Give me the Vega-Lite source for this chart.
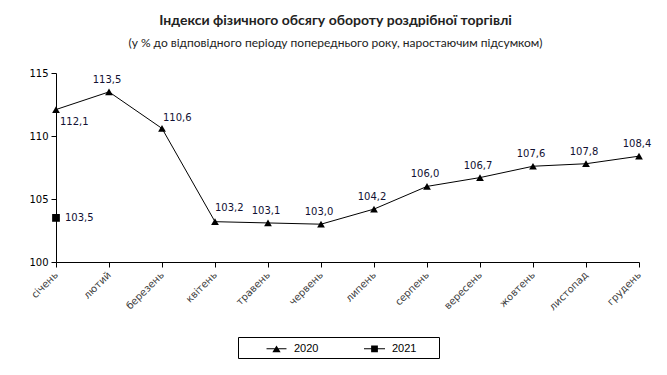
{
  "$schema": "https://vega.github.io/schema/vega-lite/v6.json",
  "autosize": "none",
  "width": 583,
  "height": 189,
  "padding": {"left": 56, "top": 73, "right": 28, "bottom": 113},
  "background": "white",
  "title": {
    "text": "Індекси фізичного обсягу обороту роздрібної торгівлі",
    "subtitle": "(у % до відповідного періоду попереднього року, наростаючим підсумком)",
    "anchor": "middle",
    "dx": -12,
    "offset": 19,
    "font": "Lato",
    "fontSize": 14,
    "fontWeight": "bold",
    "color": "#222222",
    "subtitleFont": "Lato",
    "subtitleFontSize": 12,
    "subtitleColor": "#222222",
    "subtitlePadding": 10
  },
  "config": {
    "view": {"stroke": null},
    "locale": {"number": {"decimal": ",", "thousands": " ", "grouping": [3], "currency": ["", ""]}},
    "axis": {"grid": false, "domainColor": "black", "tickColor": "black", "labelFont": "DejaVu Sans", "labelFontSize": 10, "title": null}
  },
  "data": {
    "values": [
      {"month": "січень", "year": "2020", "value": 112.1},
      {"month": "лютий", "year": "2020", "value": 113.5},
      {"month": "березень", "year": "2020", "value": 110.6},
      {"month": "квітень", "year": "2020", "value": 103.2},
      {"month": "травень", "year": "2020", "value": 103.1},
      {"month": "червень", "year": "2020", "value": 103.0},
      {"month": "липень", "year": "2020", "value": 104.2},
      {"month": "серпень", "year": "2020", "value": 106.0},
      {"month": "вересень", "year": "2020", "value": 106.7},
      {"month": "жовтень", "year": "2020", "value": 107.6},
      {"month": "листопад", "year": "2020", "value": 107.8},
      {"month": "грудень", "year": "2020", "value": 108.4},
      {"month": "січень", "year": "2021", "value": 103.5}
    ]
  },
  "encoding": {
    "x": {
      "field": "month",
      "type": "ordinal",
      "sort": null,
      "scale": {"type": "point", "padding": 0, "domain": ["січень", "лютий", "березень", "квітень", "травень", "червень", "липень", "серпень", "вересень", "жовтень", "листопад", "грудень"]},
      "axis": {"labelAngle": -45, "labelAlign": "right", "labelBaseline": "middle", "labelColor": "#404040", "tickSize": 5, "labelPadding": 6}
    },
    "y": {
      "field": "value",
      "type": "quantitative",
      "scale": {"domain": [100, 115], "nice": false, "zero": false},
      "axis": {"values": [100, 105, 110, 115], "tickSize": 5, "labelPadding": 3, "labelColor": "black"}
    }
  },
  "resolve": {"scale": {"shape": "independent"}},
  "layer": [
    {
      "mark": {"type": "line", "color": "black", "strokeWidth": 1},
      "encoding": {"detail": {"field": "year"}}
    },
    {
      "mark": {"type": "point", "filled": true, "color": "black", "opacity": 1},
      "encoding": {
        "shape": {
          "field": "year",
          "type": "nominal",
          "scale": {"domain": ["2020", "2021"], "range": ["triangle-up", "square"]},
          "legend": null
        },
        "size": {"value": 60}
      }
    },
    {
      "mark": {"type": "point", "filled": true, "fill": "black", "opacity": 0},
      "encoding": {
        "shape": {
          "field": "year",
          "type": "nominal",
          "scale": {"domain": ["2020", "2021"], "range": ["M-1.33,-0.067L1.33,-0.067L1.33,0.067L-1.33,0.067ZM-0.55,0.45L0,-0.45L0.55,0.45Z", "M-1.4,-0.067L1.4,-0.067L1.4,0.067L-1.4,0.067ZM-0.45,-0.45L0.45,-0.45L0.45,0.45L-0.45,0.45Z"]},
          "legend": {
            "title": " ",
            "titleOrient": "left",
            "titlePadding": 27,
            "orient": "none",
            "legendX": 182,
            "legendY": 264,
            "direction": "horizontal",
            "strokeColor": "black",
            "padding": 4,
            "symbolSize": 225,
            "symbolStrokeWidth": 0,
            "symbolOpacity": 1,
            "symbolFillColor": "black",
            "labelOffset": 10,
            "columnPadding": 27,
            "labelFont": "Liberation Sans",
            "labelFontSize": 11,
            "labelColor": "black",
            "labelExpr": "datum.label + '\u2009\u2800\u2800'"
          }
        },
        "size": {"value": 1}
      }
    },
    {
      "transform": [{"filter": "datum.year === '2020' && indexof(['лютий','травень','червень','липень','серпень','вересень','жовтень','листопад','грудень'], datum.month) >= 0"}],
      "mark": {"type": "text", "font": "DejaVu Sans", "fontSize": 10, "color": "#111133", "dy": -12, "dx": -2, "align": "center"},
      "encoding": {"text": {"field": "value", "type": "quantitative", "format": ".1f"}}
    },
    {
      "transform": [{"filter": "datum.year === '2020' && datum.month === 'березень'"}],
      "mark": {"type": "text", "font": "DejaVu Sans", "fontSize": 10, "color": "#111133", "dy": -10, "dx": 1, "align": "left"},
      "encoding": {"text": {"field": "value", "type": "quantitative", "format": ".1f"}}
    },
    {
      "transform": [{"filter": "datum.year === '2020' && datum.month === 'квітень'"}],
      "mark": {"type": "text", "font": "DejaVu Sans", "fontSize": 10, "color": "#111133", "dy": -14, "dx": 0, "align": "left"},
      "encoding": {"text": {"field": "value", "type": "quantitative", "format": ".1f"}}
    },
    {
      "transform": [{"filter": "datum.year === '2020' && datum.month === 'січень'"}],
      "mark": {"type": "text", "font": "DejaVu Sans", "fontSize": 10, "color": "#111133", "dy": 12, "dx": 4, "align": "left"},
      "encoding": {"text": {"field": "value", "type": "quantitative", "format": ".1f"}}
    },
    {
      "transform": [{"filter": "datum.year === '2021'"}],
      "mark": {"type": "text", "font": "DejaVu Sans", "fontSize": 10, "color": "#111133", "dy": 0, "dx": 9, "align": "left"},
      "encoding": {"text": {"field": "value", "type": "quantitative", "format": ".1f"}}
    }
  ]
}
